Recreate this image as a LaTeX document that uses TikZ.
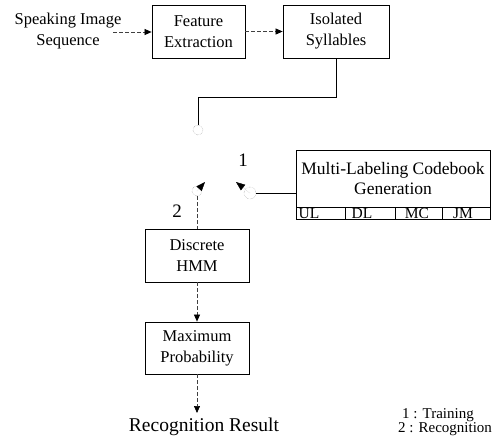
\documentclass[tikz,border=0pt]{standalone}
\usepackage{fontspec}
\setmainfont{Liberation Serif}
\usetikzlibrary{arrows.meta}

\begin{document}
\begin{tikzpicture}[x=1pt,y=-1pt,
  box/.style={rectangle,draw=black,line width=0.8pt,align=center,inner sep=0pt,font=\fontsize{16.5}{21}\selectfont},
  cell/.style={rectangle,draw=black,line width=0.8pt,inner sep=0pt,minimum height=12pt},
  celltext/.style={inner sep=0pt,text height=10pt,text depth=0pt,font=\fontsize{15.5}{15.5}\selectfont},
  contact/.style={circle,draw=black!45,densely dotted,minimum size=10pt,inner sep=0pt},
  flow/.style={draw=black!75,line width=0.7pt,dash pattern=on 4pt off 2pt,-{Triangle[length=7pt,width=6pt,color=black,fill=black]}},
  arm/.style={draw=black!30,densely dotted,-{Triangle[length=9pt,width=7pt,color=black,fill=black]}},
  lbl/.style={inner sep=0pt,font=\fontsize{19}{19}\selectfont}]
	\useasboundingbox (0,0) rectangle (499,445);
	% input and feature stage
	\node[align=center,inner sep=0pt,font=\fontsize{16.5}{21}\selectfont] (speak) at (68,31) {Speaking Image\\Sequence};
	\node[box,minimum width=93pt,minimum height=53pt] (feat) at (198.5,31.5) {Feature\\Extraction};
	\node[box,minimum width=106pt,minimum height=53pt] (iso) at (336,31.5) {Isolated\\Syllables};
	\coordinate (sin) at (113,32);
	\draw[flow] (sin) -- (sin -| feat.west);
	\draw[flow] (feat.east) -- (iso.west);
	% switch
	\node[contact] (ctop) at (198,130) {};
	\node[contact] (cleft) at (197,191) {};
	\node[contact,minimum size=12pt] (cright) at (250,193) {};
	\coordinate (tleft) at (205,182);
	\coordinate (tright) at (236,182);
	\draw[line width=0.8pt] (iso.south) -- ++(0,39) -| (ctop.north);
	\draw[arm] (cleft.center) -- (tleft);
	\draw[arm] (cright.center) -- (tright);
	\node[lbl] (one) at (243,160) {1};
	\node[lbl] (two) at (177,211) {2};
	% codebook
	\node[box,font=\fontsize{17.5}{20}\selectfont,minimum width=194pt,minimum height=57pt] (multi) at (393,178.5) {Multi-Labeling Codebook\\Generation};
	\foreach \name/\x/\w/\t in {UL/320.5/49pt/309,DL/370/50pt/362,MC/418.5/47pt/417,JM/466/48pt/463}{
	    \node[cell,minimum width=\w] (c\name) at (\x,213) {};
	    \node[celltext] (t\name) at (\t,213) {\name};
	}
	\draw[line width=0.8pt] (cright.east) -- (cright.east -| multi.west);
	% recognition
	\node[box,minimum width=104pt,minimum height=53pt] (disc) at (197,255.5) {Discrete\\HMM};
	\node[box,minimum width=104pt,minimum height=52pt] (maxp) at (197,348) {Maximum\\Probability};
	\draw[draw=black!75,line width=0.7pt,dash pattern=on 4pt off 2pt] (cleft.south) -- (disc.north);
	\draw[flow] (disc.south) -- (maxp.north);
	\coordinate (rtip) at (197,413);
	\draw[flow] (maxp.south) -- (rtip);
	\node[anchor=base,inner sep=0pt,font=\fontsize{19.5}{19.5}\selectfont] (res) at (204,431) {Recognition Result};
	% legend
	\node[anchor=base west,inner sep=0pt,font=\fontsize{15}{15}\selectfont] (leg1) at (402,418) {1 : Training};
	\node[anchor=base west,inner sep=0pt,font=\fontsize{15}{15}\selectfont] (leg2) at (398,432) {2 : Recognition};
\end{tikzpicture}
\end{document}
